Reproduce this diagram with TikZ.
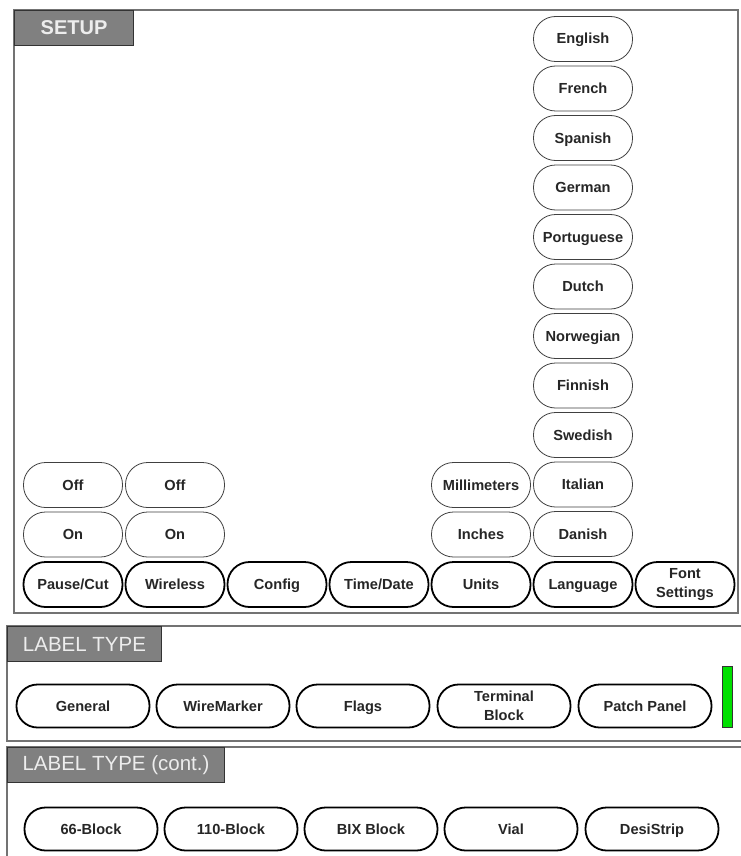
\documentclass[tikz,border=0pt]{standalone}
\usepackage{fontspec}
\setmainfont{Liberation Sans}
\definecolor{barGreen}{RGB}{0,224,0}
\definecolor{titleGray}{RGB}{128,128,128}
\begin{document}
\begin{tikzpicture}[x=1pt,y=-1pt,
 btn/.style={draw=black!75, line width=0.8pt, rounded corners=22pt, minimum width=99pt, minimum height=45pt, inner sep=0pt, font=\fontsize{14.6}{15}\selectfont\bfseries, text=black!85, align=center, text height=10.5pt, text depth=0.5pt},
 twoline/.style={text height={}, text depth={}},
 mainbtn/.style={btn, draw=black, line width=1.8pt},
 lbtn/.style={mainbtn, minimum width=133pt, minimum height=43pt, rounded corners=21pt},
 titlebox/.style={draw=black!80, line width=1pt, fill=titleGray, text=white!93!black, anchor=north west, inner sep=0pt, minimum height=35pt},
 panel/.style={draw=black!55, line width=1.5pt}]
\useasboundingbox (0,0) rectangle (740,856);
\fill[white] (0,0) rectangle (740,856);

% panels
\draw[panel] (14,10) rectangle (738,613);
\draw[panel] (742,626) -- (7,626) -- (7,741) -- (742,741);
\draw[panel] (742,747) -- (7,747) -- (7,858);

% titles
\node[titlebox, minimum width=119pt, font=\fontsize{20}{22}\selectfont\bfseries] (setup) at (14,10) {SETUP};
\node[titlebox, minimum width=154pt, font=\fontsize{20.5}{22}\selectfont] (ltype) at (7,626) {LABEL TYPE};
\node[titlebox, minimum width=217pt, font=\fontsize{20.5}{22}\selectfont] (ltypec) at (7,747) {LABEL TYPE (cont.)};

% language column
\foreach \t [count=\i] in {English,French,Spanish,German,Portuguese,Dutch,Norwegian,Finnish,Swedish,Italian,Danish}
  \node[btn] (lang\i) at (583,{39+(\i-1)*49.5}) {\t};

% option columns
\node[btn] (pcoff) at (73,485) {Off};
\node[btn] (pcon) at (73,534.5) {On};
\node[btn] (wloff) at (175,485) {Off};
\node[btn] (wlon) at (175,534.5) {On};
\node[btn] (mm) at (481,485) {Millimeters};
\node[btn] (inch) at (481,534.5) {Inches};

% main row
\node[mainbtn] (pausecut) at (73,584.5) {Pause/Cut};
\node[mainbtn] (wireless) at (175,584.5) {Wireless};
\node[mainbtn] (config) at (277,584.5) {Config};
\node[mainbtn] (timedate) at (379,584.5) {Time/Date};
\node[mainbtn] (units) at (481,584.5) {Units};
\node[mainbtn] (language) at (583,584.5) {Language};
\node[mainbtn, twoline] (fontset) at (685,584.5) {Font\\[3.5pt]Settings};

% label type
\node[lbtn] (general) at (83,706) {General};
\node[lbtn] (wiremarker) at (223,706) {WireMarker};
\node[lbtn] (flags) at (363,706) {Flags};
\node[lbtn, twoline] (terminal) at (504,706) {Terminal\\[3.5pt]Block};
\node[lbtn] (patch) at (645,706) {Patch Panel};
\node[draw=black!80, line width=1pt, fill=barGreen, minimum width=10pt, minimum height=61pt, inner sep=0pt] (bar) at (727,696.5) {};

% label type cont.
\node[lbtn] (b66) at (91,829) {66-Block};
\node[lbtn] (b110) at (231,829) {110-Block};
\node[lbtn] (bix) at (371,829) {BIX Block};
\node[lbtn] (vial) at (511,829) {Vial};
\node[lbtn] (desi) at (652,829) {DesiStrip};
\end{tikzpicture}
\end{document}
